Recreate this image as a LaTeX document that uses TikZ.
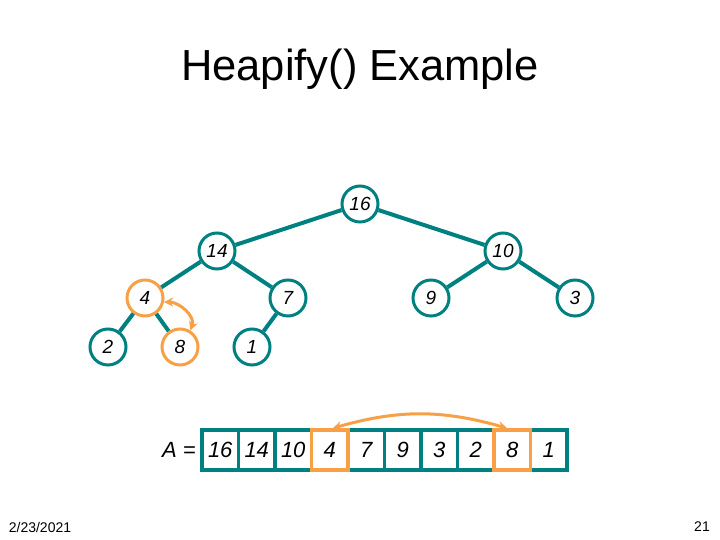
\documentclass[tikz,border=0pt]{standalone}
\usepackage{fontspec}
\setmainfont{Liberation Sans}
\usetikzlibrary{arrows.meta}

\definecolor{heapteal}{RGB}{0,128,128}
\definecolor{heaporange}{RGB}{247,160,70}

\begin{document}
\begin{tikzpicture}[x=1pt,y=1pt,
    key/.style={circle, draw=heapteal, line width=3pt, fill=white,
                minimum size=36pt, inner sep=0pt, font=\fontsize{19}{19}\selectfont\itshape},
    moved/.style={draw=heaporange},
    cell/.style={rectangle, draw=heapteal, line width=3.5pt, fill=white,
                 minimum width=36.5pt, minimum height=40pt, inner sep=0pt,
                 font=\fontsize{22}{22}\selectfont\itshape},
    branch/.style={heapteal, line width=4pt},
    swap/.style={heaporange, line width=3pt,
                 {Stealth[length=9pt,width=9pt]}-{Stealth[length=9pt,width=9pt]}}]
\useasboundingbox (0,0) rectangle (720,540);

\node[font=\fontsize{43.5}{43.5}\selectfont] (title) at (360,471) {Heapify() Example};

% the heap
\node[key] (n16) at (360,336) {16};
\node[key] (n14) at (217,289) {14};
\node[key] (n10) at (503,289) {10};
\node[key,moved] (n4) at (145,242) {4};
\node[key] (n7) at (288,242) {7};
\node[key] (n9) at (431,242) {9};
\node[key] (n3) at (575,242) {3};
\node[key] (n2) at (108,193) {2};
\node[key,moved] (n8) at (180,193) {8};
\node[key] (n1) at (252,193) {1};

\draw[branch] (n16) -- (n14);
\draw[branch] (n16) -- (n10);
\draw[branch] (n14) -- (n4);
\draw[branch] (n14) -- (n7);
\draw[branch] (n10) -- (n9);
\draw[branch] (n10) -- (n3);
\draw[branch] (n4) -- (n2);
\draw[branch] (n4) -- (n8);
\draw[branch] (n7) -- (n1);

\draw[swap] (n4.-12) to[out=0, in=70] (n8.58);

% the array
\node[font=\fontsize{22}{22}\selectfont\itshape] (alabel) at (179,90) {A =};
\foreach \v [count=\i] in {16,14,10,4,7,9,3,2,8,1}
  \node[cell] (c\i) at ({220.25+36.5*(\i-1)},90) {\v};
\node[cell,moved] at (c4) {4};
\node[cell,moved] at (c9) {8};

\draw[swap] ([xshift=3pt]c4.north) to[out=16, in=164] ([xshift=-5pt]c9.north);

% footer
\node[font=\fontsize{14}{14}\selectfont] (date) at (40,13) {2/23/2021};
\node[font=\fontsize{14}{14}\selectfont] (page) at (702,13) {21};
\end{tikzpicture}
\end{document}
